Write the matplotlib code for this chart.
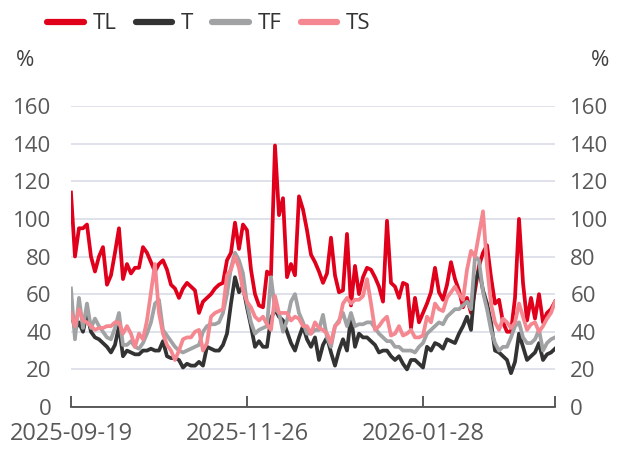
import numpy as np
import matplotlib
matplotlib.use("Agg")
import matplotlib.pyplot as plt

plt.rcParams['font.family'] = ['Open Sans', 'DejaVu Sans']

# values, one point per trading day
tl = [114, 80, 95, 95, 97, 80, 72, 80, 85, 65,
      70, 82, 95, 68, 76, 71, 74, 74, 85, 82,
      77, 72, 76, 78, 73, 65, 63, 58, 63, 66,
      64, 62, 50, 56, 58, 60, 63, 65, 66, 78,
      82, 98, 84, 97, 94, 73, 60, 54, 53, 72,
      70, 139, 102, 111, 69, 76, 70, 112, 105, 94,
      81, 77, 72, 66, 71, 90, 70, 61, 62, 92,
      54, 75, 60, 69, 74, 73, 69, 64, 56, 99,
      66, 64, 58, 66, 65, 42, 58, 45, 50, 55,
      61, 74, 61, 57, 65, 77, 68, 62, 53, 58,
      50, 62, 75, 82, 86, 69, 55, 57, 45, 40,
      40, 58, 100, 66, 46, 58, 47, 60, 45, 50,
      52, 56]
t = [52, 41, 45, 40, 50, 40, 37, 36, 34, 32,
     29, 33, 43, 27, 30, 29, 28, 28, 30, 30,
     31, 30, 30, 35, 27, 26, 26, 25, 21, 23,
     22, 22, 24, 22, 32, 31, 30, 30, 33, 39,
     55, 69, 61, 64, 53, 43, 32, 35, 32, 32,
     47, 52, 48, 46, 40, 34, 30, 37, 43, 36,
     32, 37, 25, 33, 37, 29, 22, 30, 36, 30,
     48, 32, 39, 37, 37, 35, 33, 29, 30, 30,
     27, 25, 27, 23, 20, 25, 25, 23, 21, 32,
     30, 34, 33, 31, 36, 35, 34, 39, 43, 48,
     41, 66, 73, 62, 55, 45, 30, 29, 27, 25,
     18, 24, 39, 32, 25, 27, 29, 34, 25, 28,
     29, 31]
tf = [63, 36, 58, 42, 55, 42, 47, 43, 40, 37,
      36, 42, 50, 33, 33, 35, 32, 31, 34, 39,
      45, 55, 57, 41, 38, 35, 32, 30, 29, 30,
      31, 32, 33, 40, 43, 44, 44, 45, 50, 60,
      74, 82, 78, 71, 55, 45, 39, 41, 42, 43,
      69, 52, 50, 40, 46, 56, 60, 50, 45, 39,
      39, 41, 41, 49, 37, 32, 43, 46, 50, 43,
      50, 43, 44, 44, 45, 45, 42, 39, 37, 35,
      35, 32, 32, 30, 30, 30, 29, 32, 34, 39,
      41, 43, 45, 44, 48, 50, 52, 52, 54, 56,
      52, 80, 78, 61, 52, 41, 34, 30, 32, 32,
      37, 43, 45, 37, 34, 34, 36, 41, 30, 34,
      36, 37]
ts = [50, 43, 52, 46, 45, 43, 41, 42, 42, 43,
      43, 45, 45, 39, 43, 39, 32, 39, 36, 46,
      61, 76, 50, 39, 33, 30, 25, 30, 36, 37,
      37, 40, 41, 30, 34, 48, 50, 51, 52, 70,
      73, 80, 74, 62, 56, 53, 48, 46, 48, 44,
      41, 59, 50, 50, 50, 46, 48, 47, 43, 43,
      39, 45, 42, 41, 39, 34, 43, 45, 55, 58,
      55, 57, 57, 59, 68, 55, 41, 43, 46, 48,
      38, 39, 43, 38, 39, 41, 37, 37, 38, 48,
      45, 55, 52, 51, 58, 61, 64, 60, 57, 73,
      83, 80, 92, 104, 75, 55, 45, 41, 47, 45,
      42, 45, 55, 48, 41, 44, 45, 40, 43, 47,
      50, 56]

tick_idx = [0, 44, 88, len(tl) - 1]
tick_labels = ['2025-09-19', '2025-11-26', '2026-01-28', '']
yticks = [0, 20, 40, 60, 80, 100, 120, 140, 160]

names = ['TL', 'T', 'TF', 'TS']
colors = ['#e0001b', '#333333', '#a0a2a4', '#f4878f']

fig = plt.figure(figsize=(6.22, 4.53), dpi=100)
ax = fig.add_axes([0.1141, 0.1015, 0.7782, 0.6645])

x = np.arange(len(tl))
for vals, name, col in zip([tl, t, tf, ts], names, colors):
    ax.plot(x, vals, color=col, lw=2.7, label=name, solid_joinstyle='round')

ax.set_xlim(0, len(tl) - 1)
ax.set_ylim(0, 160)
ax.set_yticks(yticks)
ax.yaxis.grid(True, color='#d9dce8', lw=1.2)
ax.set_axisbelow(True)
for s in ['top', 'right', 'left']:
    ax.spines[s].set_visible(False)
ax.spines['bottom'].set_color('#404040')
ax.spines['bottom'].set_linewidth(1.2)

ax.set_xticks(tick_idx)
ax.set_xticklabels(tick_labels)
ax.tick_params(axis='x', direction='in', length=8, width=1.2, color='#404040',
               labelsize=17, labelcolor='#595959', pad=11)
ax.tick_params(axis='y', length=0, labelsize=16, labelcolor='#595959', pad=14)

ax2 = ax.twinx()
ax2.set_ylim(0, 160)
ax2.set_yticks(yticks)
for s in ['top', 'right', 'left', 'bottom']:
    ax2.spines[s].set_visible(False)
ax2.tick_params(axis='y', length=0, labelsize=16, labelcolor='#595959', pad=11)

fig.text(25 / 622, 1 - 61 / 453, '%', ha='center', va='center', fontsize=16, color='#404040')
fig.text(600 / 622, 1 - 61 / 453, '%', ha='center', va='center', fontsize=16, color='#404040')

h, l = ax.get_legend_handles_labels()
leg = fig.legend(h, l, loc='upper left', bbox_to_anchor=(34 / 622, 1.0), ncol=4, frameon=False,
                 borderpad=0.1, fontsize=16, handlelength=1.65, handletextpad=0.4,
                 columnspacing=0.85)
for line in leg.get_lines():
    line.set_linewidth(4.5)
    line.set_solid_capstyle('round')
for txt in leg.get_texts():
    txt.set_color('#333333')

fig.savefig('out.png', dpi=100)
